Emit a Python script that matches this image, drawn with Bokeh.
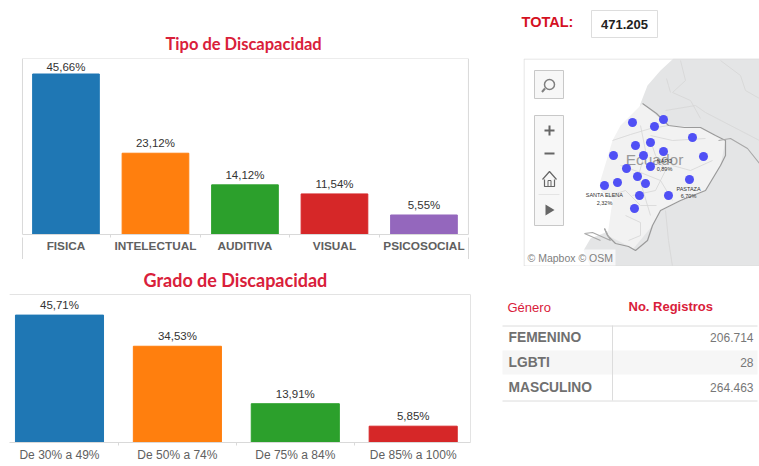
from bokeh.core.properties import value
from bokeh.embed import file_html
from bokeh.layouts import column, row
from bokeh.models import BoxAnnotation, ColumnDataSource, FixedTicker, LinearAxis, Range1d
from bokeh.plotting import figure
from bokeh.resources import INLINE

# ---------- data ----------
tipo_cats = ["FISICA", "INTELECTUAL", "AUDITIVA", "VISUAL", "PSICOSOCIAL"]
tipo_vals = [45.66, 23.12, 14.12, 11.54, 5.55]
grado_cats = ["De 30% a 49%", "De 50% a 74%", "De 75% a 84%", "De 85% a 100%"]
grado_vals = [45.71, 34.53, 13.91, 5.85]
bar_colors = ["#1f77b4", "#ff7f0e", "#2ca02c", "#d62728", "#9467bd"]

genero = ["FEMENINO", "LGBTI", "MASCULINO"]
registros = ["206.714", "28", "264.463"]
total_value = "471.205"

# map points in the picture's projected map coordinates
pts_x = [632, 663, 654, 692, 650, 635, 663, 643, 703, 613, 650, 626, 637, 617, 645, 604, 689, 639, 668, 634]
pts_y = [122, 119, 126, 137, 142, 145, 151, 155, 156, 155, 166, 168, 176, 182, 183, 185, 179, 195, 195, 208]
land_x = [673, 759, 759, 590, 583, 590, 610, 640, 647, 660]
land_y = [58, 58, 266, 266, 250, 238, 230, 103, 85, 70]
ecu_x = [642, 668, 700, 715, 725, 720, 705, 680, 660, 652, 633, 607, 612, 600, 600, 612, 620]
ecu_y = [103, 125, 127, 135, 140, 165, 190, 200, 210, 225, 248, 235, 200, 190, 180, 140, 125]
border_x = [642, 656, 668, 684, 700, 715, 725, 725, 720, 705, 680, 660, 652, 647, 635, 628, 615, 607, 604]
border_y = [103, 113, 125, 127, 127, 135, 140, 155, 165, 190, 200, 210, 225, 240, 250, 246, 243, 235, 228]
peru_x = [718, 730, 747, 759]
peru_y = [140, 138, 148, 163]
south_x = [604, 610, 592, 584, 600]
south_y = [228, 240, 232, 233, 240]
prov_xs = [[612, 630, 650, 668], [640, 645, 638, 650], [650, 672, 705], [620, 640, 660, 672], [632, 655, 665, 655, 650],
           [610, 625, 640, 656], [625, 640, 640, 628], [672, 690, 712],
           [680, 685, 672, 690, 700], [665, 695, 705, 759], [720, 740, 745, 759], [665, 668, 672], [666, 668, 670]]
prov_ys = [[140, 134, 128, 125], [125, 150, 175, 215], [135, 140, 138], [165, 172, 180, 200], [195, 190, 170, 155, 140],
           [195, 190, 205, 205], [215, 222, 235, 240], [165, 170, 160],
           [60, 80, 92, 100, 118], [110, 105, 112, 140], [60, 75, 90, 98], [210, 240, 266], [78, 85, 92]]
map_lab_x = [604, 604, 664, 664, 688, 688]
map_lab_y = [194, 202, 160, 168, 188, 195]
map_lab = ["SANTA ELENA", "2,32%", "NAPO", "0,89%", "PASTAZA", "6,70%"]

RED = "#d9203a"
GRID = "#d9d9d9"
SANS = "Liberation Sans"


def bar_fig(cats, vals, h, frame_h, bt, xr, ymax, bw, title, title_size, title_standoff, title_offset,
            label_style, label_size, offs, standoff):
    # both bar charts share a frame from x=9 to x=470 because the column aligns their frames
    w, frame_w, bl = 467, 461, 1
    xs = list(range(len(cats)))
    src = ColumnDataSource(dict(x=xs, top=vals, color=bar_colors[:len(cats)], off=offs,
                                lab=[f"{v:.2f}%".replace(".", ",") for v in vals]))
    p = figure(width=w, height=h, frame_width=frame_w, frame_height=frame_h, output_backend="svg",
               toolbar_location=None, x_range=Range1d(*xr), y_range=Range1d(0, ymax),
               y_axis_location=None, title=title, min_border_left=bl, min_border_top=bt,
               min_border_right=w - bl - frame_w, min_border_bottom=h - bt - frame_h)
    p.title.align = "left"
    p.title.text_color = RED
    p.title.text_font = "Lato"
    p.title.text_font_size = title_size
    p.title.text_font_style = "bold"
    p.title.standoff = title_standoff
    p.title.offset = title_offset
    p.xgrid.visible = False
    p.ygrid.visible = False
    p.outline_line_color = None
    p.background_fill_color = None
    p.border_fill_color = None
    p.vbar(x="x", top="top", bottom=0, width=bw, color="color", source=src)
    p.text(x="x", y="top", text="lab", source=src, text_align="center", text_baseline="bottom", y_offset="off",
           text_font=value(SANS), text_font_size="11.5px", text_color="#333333")
    ax = p.xaxis[0]
    ax.ticker = FixedTicker(ticks=xs, minor_ticks=[i + 0.5 for i in xs[:-1]])
    ax.major_label_overrides = {i: c for i, c in zip(xs, cats)}
    ax.major_tick_line_color = None
    ax.major_tick_out = 0
    ax.major_tick_in = 0
    ax.minor_tick_line_color = GRID
    ax.minor_tick_out = 3
    ax.minor_tick_in = 0
    ax.axis_line_color = GRID
    ax.major_label_standoff = standoff
    ax.major_label_text_font = SANS
    ax.major_label_text_font_size = label_size
    ax.major_label_text_font_style = label_style
    ax.major_label_text_color = "#606060"
    return p


def rule(**kw):
    return BoxAnnotation(fill_color=None, line_color=GRID, line_alpha=1, line_width=1, **kw)


tipo_left, tipo_right = -0.486, 4.497
p1 = bar_fig(tipo_cats, tipo_vals, 251, 176, 50, (-0.631, 4.52), 50.07, 0.745,
             "Tipo de Discapacidad", "16.5px", 9, 156, "bold", "11.8px", [-1, -4, -4, -4, -4], 1)
p1.xaxis[0].bounds = (tipo_left, tipo_right)
p1.add_layout(rule(left=tipo_left, right=tipo_right, top=50.07, bottom=0))
# the frame's side lines run on below the axis, beside the category labels
p1.add_layout(LinearAxis(ticker=FixedTicker(ticks=[tipo_left, tipo_right]),
                         major_label_overrides={tipo_left: "", tipo_right: ""},
                         major_label_text_font_size="1px", major_label_standoff=0,
                         major_tick_in=18, major_tick_out=4, major_tick_line_color=GRID,
                         axis_line_color=None, minor_tick_line_color=None), "below")

p2 = bar_fig(grado_cats, grado_vals, 207, 148, 35, (-0.424, 3.486), 53.1, 0.747,
             "Grado de Discapacidad", "18px", 8, 134, "normal", "12px", [-4, -4, -4, -4], 2)
p2.add_layout(rule(left=-0.424, right=3.486, top=53.1, bottom=53.1))
p2.add_layout(rule(left=3.486, right=3.486, top=53.1, bottom=0))


def blank(w, h, xr, yr):
    p = figure(width=w, height=h, output_backend="svg", toolbar_location=None,
               x_range=Range1d(*xr), y_range=Range1d(*yr), x_axis_location=None, y_axis_location=None,
               min_border=0, min_border_left=0, min_border_right=0, min_border_top=0, min_border_bottom=0)
    p.xgrid.visible = False
    p.ygrid.visible = False
    p.outline_line_color = None
    p.background_fill_color = None
    p.border_fill_color = None
    return p


# ---------- total ----------
pt = blank(284, 50, (475, 759), (58, 8))
pt.text(x=[547], y=[21], text=["TOTAL:"], text_align="center", text_baseline="middle",
        text_font=value(SANS), text_font_size="14.5px", text_font_style="bold", text_color="#d4111f")
pt.quad(left=[591], right=[657], top=[10], bottom=[37], fill_color="white", line_color="#dddddd")
pt.text(x=[624], y=[24], text=[total_value], text_align="center", text_baseline="middle",
        text_font=value(SANS), text_font_size="13px", text_font_style="bold", text_color="#222222")

# ---------- map ----------
pm = blank(236, 208, (523, 759), (266, 58))
pm.patch(land_x, land_y, fill_color="#e4e5e6", line_color=None)
pm.patch(ecu_x, ecu_y, fill_color="#f2f2f2", line_color=None)
pm.multi_line(prov_xs, prov_ys, line_color="#d6d6d6", line_width=0.8)
pm.line(border_x, border_y, line_color="#9a9a9a", line_width=1.2)
pm.line(peru_x, peru_y, line_color="#a8a8a8", line_width=1.1)
pm.line(south_x, south_y, line_color="#a8a8a8", line_width=1.1)
pm.text(x=[654], y=[159], text=["Ecuador"], text_align="center", text_baseline="middle",
        text_font=value(SANS), text_font_size="15.5px", text_color="#9a9a9a")
pm.scatter(pts_x, pts_y, size=9, color="#5050f5", line_color=None)
pm.text(x=map_lab_x, y=map_lab_y, text=map_lab, text_align="center", text_baseline="middle",
        text_font=value(SANS), text_font_size="5.5px", text_color="#333333")
# frame
pm.multi_line([[523.5, 759], [523.5, 523.5], [523.5, 759]], [[58.5, 58.5], [58.5, 266], [265.5, 265.5]],
              line_color="#dddddd", line_width=1)
# tool buttons
pm.quad(left=[534, 534], right=[563, 563], top=[70, 115], bottom=[98, 225],
        fill_color="#f7f7f7", line_color="#c8c8c8")
pm.line([538, 559], [194, 194], line_color="#e4e4e4")
pm.line([544.5, 541.5], [88, 91.5], line_color="#7f7f7f", line_width=2)
pm.scatter([549], [84], size=10, fill_color=None, line_color="#7f7f7f", line_width=1.5)
pm.multi_line([[544, 554], [549, 549], [544, 554]], [[130, 130], [125, 135], [153, 153]],
              line_color="#666666", line_width=2)
pm.line([542, 549, 556], [179, 171, 179], line_color="#666666", line_width=1.2)
pm.line([544, 544, 554, 554], [179, 186, 186, 179], line_color="#666666", line_width=1.2)
pm.line([547.5, 547.5, 550.5, 550.5], [186, 180, 180, 186], line_color="#666666", line_width=1)
pm.patch([545, 545, 554], [204, 215, 209.5], fill_color="#666666", line_color=None)
pm.quad(left=[525], right=[615], top=[249], bottom=[265], fill_color="white", fill_alpha=0.7, line_color=None)
pm.text(x=[527], y=[257], text=["© Mapbox  © OSM"], text_align="left", text_baseline="middle",
        text_font=value(SANS), text_font_size="10.5px", text_color="#808080")

# ---------- table ----------
ptb = blank(284, 144, (475, 759), (410, 266))
rows_y = [337, 362, 387]
ptb.quad(left=[502], right=[757], top=[350], bottom=[374], fill_color="#f6f6f6", line_color=None)
ptb.multi_line([[502, 757], [502, 757], [612, 612]], [[325.5, 325.5], [400.5, 400.5], [325, 400]],
               line_color="#dcdcdc", line_width=1)
ptb.text(x=[507], y=[307], text=["Género"], text_baseline="middle",
         text_font=value(SANS), text_font_size="13px", text_color=RED)
ptb.text(x=[628], y=[306], text=["No. Registros"], text_baseline="middle",
         text_font=value(SANS), text_font_size="13px", text_font_style="bold", text_color=RED)
ptb.text(x=[508] * 3, y=rows_y, text=genero, text_baseline="middle",
         text_font=value(SANS), text_font_size="13.8px", text_font_style="bold", text_color="#707070")
ptb.text(x=[753] * 3, y=rows_y, text=registros, text_align="right", text_baseline="middle",
         text_font=value(SANS), text_font_size="12px", text_color="#777777")

pm.margin = (0, 0, 0, 48)
right_col = column(pt, pm, ptb, spacing=0)
left_col = column(p1, p2, spacing=0)
root = row(left_col, right_col, spacing=0)
root.margin = (8, 0, 0, 8)

open("out.html", "w").write(file_html(root, INLINE))
